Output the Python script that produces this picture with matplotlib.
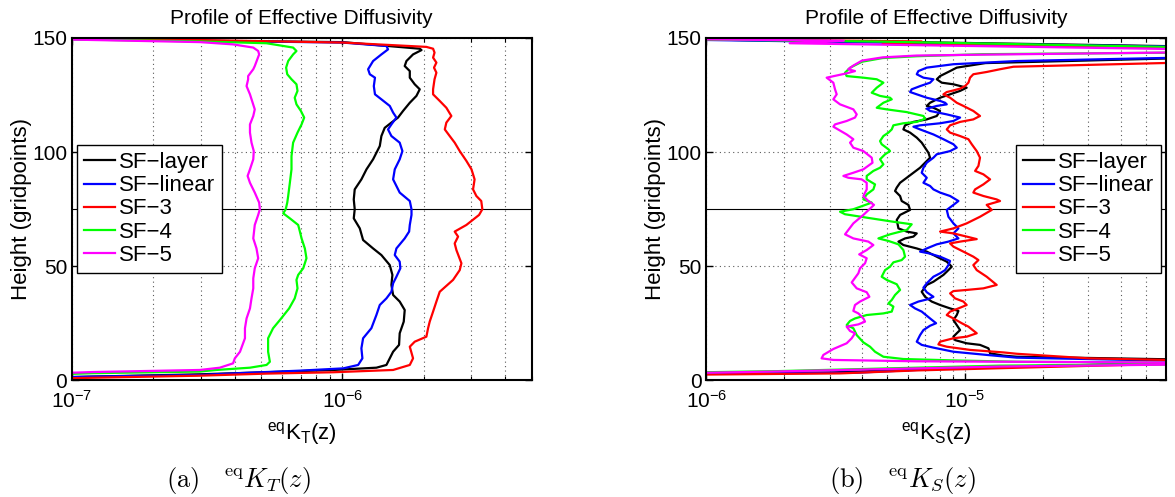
import matplotlib
matplotlib.use('Agg')
import matplotlib.pyplot as plt
from matplotlib.ticker import NullFormatter

plt.rcParams['font.family'] = ['Liberation Sans', 'DejaVu Sans']
plt.rcParams['mathtext.fontset'] = 'custom'
plt.rcParams['mathtext.rm'] = 'Liberation Sans'
plt.rcParams['mathtext.it'] = 'Liberation Sans:italic'
plt.rcParams['mathtext.bf'] = 'Liberation Sans:bold'

# values are in units of 1e-6, pairs are (height in gridpoints, diffusivity)
unit = 1e-6
labels = ['SF\u2212layer', 'SF\u2212linear', 'SF\u22123', 'SF\u22124', 'SF\u22125']
colors = ['k', (0, 0, 1), (1, 0, 0), (0, 1, 0), (1, 0, 1)]

# ---- (a) K_T ----
kt_layer = [(150, 0.05), (148.8, 0.297), (148.2, 1.0), (145.3, 1.931), (144.7, 1.96), (142.8, 1.824),
            (139.9, 1.724), (137.7, 1.699), (135.5, 1.774), (132.6, 1.774), (129.7, 1.85), (127.5, 1.931),
            (124.6, 1.877), (121.6, 1.774), (118.0, 1.675), (115.1, 1.605), (112.9, 1.517), (110.6, 1.433),
            (107.0, 1.393), (102.6, 1.374), (96.8, 1.298), (92.4, 1.227), (88.0, 1.175), (83.6, 1.110),
            (79.2, 1.101), (74.9, 1.110), (70.9, 1.101), (66.5, 1.159), (61.4, 1.192), (57.7, 1.298),
            (54.8, 1.393), (50.4, 1.496), (46.1, 1.53), (41.7, 1.517), (37.3, 1.539), (34.4, 1.628),
            (30.7, 1.699), (25.6, 1.685), (20.5, 1.628), (15.4, 1.619), (12.4, 1.539), (9.5, 1.496),
            (6.6, 1.454), (5.4, 1.335), (4.4, 0.924), (3.4, 0.524), (2.5, 0.297), (1.5, 0.12), (0.5, 0.05)]
kt_linear = [(150, 0.05), (148.8, 0.297), (148.0, 1.0), (146.5, 1.454), (145.0, 1.474), (142.8, 1.393),
             (139.9, 1.298), (136.3, 1.244), (134.1, 1.262), (132.6, 1.319), (128.9, 1.306), (125.3, 1.319),
             (123.1, 1.393), (120.2, 1.496), (117.3, 1.539), (115.1, 1.583), (112.1, 1.517), (109.9, 1.474),
             (107.0, 1.517), (104.1, 1.628), (100.4, 1.666), (96.8, 1.628), (92.4, 1.561), (88.0, 1.539),
             (82.2, 1.628), (78.5, 1.774), (74.9, 1.80), (72.4, 1.80), (68.0, 1.774), (65.1, 1.764),
             (62.1, 1.699), (57.7, 1.583), (54.8, 1.561), (51.9, 1.628), (49.0, 1.637), (45.3, 1.583),
             (42.4, 1.539), (38.7, 1.517), (35.8, 1.454), (32.9, 1.374), (28.5, 1.335), (22.7, 1.279),
             (18.3, 1.192), (13.9, 1.175), (9.5, 1.185), (6.6, 1.143), (5.1, 1.006), (4.1, 0.696),
             (2.9, 0.394), (2.2, 0.297), (1.5, 0.12), (0.5, 0.05)]
kt_sf3 = [(150, 0.05), (149.1, 0.297), (148.0, 1.0), (146.1, 2.043), (145.3, 2.163), (143.6, 2.19),
          (141.4, 2.163), (139.2, 2.225), (137.0, 2.18), (134.8, 2.225), (131.9, 2.19), (127.5, 2.163),
          (125.3, 2.163), (122.4, 2.289), (119.4, 2.422), (115.8, 2.527), (112.9, 2.422), (109.9, 2.39),
          (107.0, 2.492), (104.1, 2.60), (100.4, 2.714), (96.1, 2.872), (92.4, 3.0), (88.0, 3.08),
          (83.6, 3.04), (80.7, 3.127), (78.5, 3.26), (74.9, 3.29), (72.4, 3.20), (68.0, 2.872),
          (65.1, 2.60), (62.9, 2.676), (59.9, 2.60), (57.0, 2.638), (51.2, 2.753), (48.2, 2.714),
          (43.9, 2.564), (38.7, 2.289), (34.4, 2.225), (30.0, 2.163), (25.6, 2.102), (22.7, 2.073),
          (19.0, 2.043), (16.8, 1.85), (14.6, 1.774), (9.5, 1.824), (6.6, 1.774), (4.4, 1.539),
          (3.4, 0.924), (2.8, 0.524), (1.9, 0.297), (1.0, 0.12), (0.0, 0.05)]
kt_sf4 = [(150, 0.05), (148.5, 0.297), (147.7, 0.524), (145.8, 0.657), (144.3, 0.676), (142.8, 0.657),
          (139.9, 0.630), (137.0, 0.619), (134.1, 0.625), (131.9, 0.648), (129.7, 0.676), (126.8, 0.682),
          (123.8, 0.666), (120.9, 0.676), (118.0, 0.702), (115.1, 0.722), (112.1, 0.706), (108.5, 0.682),
          (104.1, 0.657), (98.2, 0.648), (92.4, 0.648), (86.5, 0.639), (80.7, 0.630), (77.8, 0.625),
          (74.9, 0.617), (73.1, 0.604), (70.9, 0.639), (68.0, 0.686), (65.1, 0.696), (62.1, 0.706),
          (57.7, 0.726), (53.4, 0.736), (49.0, 0.716), (46.1, 0.686), (43.9, 0.676), (40.2, 0.682),
          (35.8, 0.666), (31.4, 0.635), (26.3, 0.587), (22.7, 0.554), (18.3, 0.531), (12.4, 0.531),
          (8.0, 0.539), (6.6, 0.524), (5.4, 0.455), (4.4, 0.342), (3.7, 0.297), (3.0, 0.12), (1.5, 0.05)]
kt_sf5 = [(150, 0.05), (148.2, 0.297), (147.2, 0.394), (145.8, 0.468), (144.3, 0.488), (142.8, 0.492),
          (137.7, 0.474), (136.3, 0.468), (133.3, 0.448), (131.9, 0.448), (128.9, 0.442), (125.3, 0.455),
          (118.7, 0.474), (115.8, 0.468), (112.1, 0.455), (108.5, 0.455), (104.1, 0.461), (100.4, 0.470),
          (96.8, 0.468), (92.4, 0.455), (89.5, 0.446), (86.5, 0.455), (82.2, 0.474), (77.8, 0.492),
          (74.9, 0.495), (72.4, 0.488), (68.0, 0.474), (62.1, 0.468), (57.7, 0.481), (53.4, 0.488),
          (49.0, 0.474), (44.6, 0.468), (40.2, 0.468), (35.8, 0.461), (31.4, 0.455), (27.0, 0.442),
          (22.7, 0.436), (18.3, 0.436), (12.4, 0.418), (9.5, 0.400), (7.3, 0.394), (5.4, 0.352),
          (4.4, 0.297), (3.5, 0.12), (2.0, 0.05)]

# ---- (b) K_S ----
ks_layer = [(150, 0.3), (148.3, 5.5), (145.5, 200), (142.5, 200), (139.0, 12.0), (137.0, 9.293),
            (135.5, 8.758), (133.3, 8.012), (131.9, 7.778), (130.4, 8.13), (129.7, 9.021), (128.2, 10.15),
            (126.8, 9.572), (125.3, 8.758), (123.8, 8.012), (121.6, 7.328), (120.2, 7.115), (119.4, 7.55),
            (118.0, 8.012), (115.8, 7.778), (114.3, 7.115), (113.2, 6.318), (111.7, 5.864), (109.9, 5.779),
            (108.5, 6.134), (106.3, 6.509), (104.1, 6.803), (101.9, 7.008), (99.7, 7.219), (97.5, 7.328),
            (95.3, 7.008), (93.1, 6.705), (90.9, 6.318), (88.7, 5.954), (86.5, 5.611), (84.4, 5.447),
            (82.9, 5.366), (80.7, 5.611), (78.5, 5.693), (76.8, 6.043), (74.6, 6.134), (72.4, 5.611),
            (70.2, 5.447), (66.5, 5.53), (65.1, 5.954), (64.3, 6.509), (62.9, 6.318), (62.1, 5.864),
            (60.7, 5.53), (59.2, 5.779), (57.7, 6.509), (56.3, 7.115), (53.7, 7.893), (51.9, 8.502),
            (49.7, 8.889), (47.5, 8.502), (46.1, 8.253), (44.6, 7.893), (43.1, 7.55), (41.7, 7.115),
            (38.7, 6.803), (36.5, 7.008), (34.4, 7.436), (32.9, 8.012), (31.4, 8.758), (30.3, 9.43),
            (28.5, 9.293), (26.3, 9.021), (24.1, 9.293), (21.9, 9.572), (20.5, 9.293), (19.0, 9.021),
            (17.5, 9.156), (16.1, 10.15), (15.4, 11.43), (13.9, 12.32), (11.7, 12.5), (10.7, 14.07),
            (10.2, 15.85), (9.1, 60), (8.7, 200), (5.6, 12.0), (3.3, 3.0), (2.4, 0.4)]
ks_linear = [(150, 0.3), (148.0, 4.8), (145.5, 200), (142.5, 200), (139.9, 15.85), (138.5, 9.02),
             (137.0, 7.115), (135.5, 6.604), (134.1, 6.509), (132.6, 6.907), (131.9, 7.55), (130.4, 7.328),
             (128.9, 6.705), (127.5, 6.223), (126.3, 6.134), (125.3, 6.509), (123.8, 7.115), (123.1, 7.55),
             (122.4, 8.012), (121.6, 8.375), (120.9, 8.502), (120.2, 7.778), (119.0, 7.115), (118.0, 7.328),
             (116.5, 8.502), (115.1, 9.572), (113.6, 9.021), (112.6, 8.012), (111.7, 6.705), (111.1, 6.318),
             (109.9, 6.705), (107.7, 7.55), (105.6, 8.253), (103.4, 9.021), (101.9, 9.293), (100.4, 8.758),
             (99.0, 7.778), (97.5, 7.55), (95.3, 7.115), (93.1, 6.907), (90.9, 6.803), (88.7, 7.115),
             (86.5, 6.907), (85.1, 7.328), (83.6, 7.55), (82.2, 8.012), (80.7, 8.758), (78.5, 9.43),
             (76.8, 9.021), (74.6, 8.502), (71.6, 8.628), (68.7, 9.021), (66.5, 9.43), (64.3, 9.021),
             (62.1, 9.43), (60.7, 8.628), (59.5, 7.778), (57.7, 7.115), (56.3, 6.705), (55.6, 7.219),
             (54.1, 8.012), (52.2, 8.758), (50.4, 8.628), (48.2, 8.375), (46.8, 8.012), (45.3, 7.55),
             (42.4, 7.115), (40.5, 6.907), (38.5, 7.115), (36.5, 7.55), (35.5, 7.219), (34.4, 6.604),
             (32.9, 6.134), (31.4, 6.411), (30.0, 6.803), (27.0, 7.328), (24.9, 7.73), (23.8, 7.328),
             (21.9, 6.907), (19.7, 6.705), (16.8, 6.509), (15.4, 6.803), (14.2, 7.55), (12.4, 9.021),
             (11.0, 12.13), (9.8, 15.85), (8.5, 60), (8.1, 200), (5.8, 12.0), (3.2, 3.8), (2.5, 0.4)]
ks_sf3 = [(150, 0.3), (148.5, 6.8), (147.4, 4.8), (145.0, 200), (140.5, 200), (137.4, 15.39),
          (136.3, 13.66), (135.1, 12.13), (134.1, 10.77), (132.6, 10.46), (130.4, 10.31), (128.9, 10.0),
          (127.8, 9.572), (127.0, 9.021), (126.3, 8.502), (125.3, 8.253), (123.8, 8.758), (121.6, 9.293),
          (120.2, 9.86), (118.0, 10.77), (115.8, 11.43), (114.3, 10.77), (113.2, 9.572), (111.7, 8.758),
          (109.9, 8.502), (108.5, 8.758), (107.0, 9.572), (105.6, 10.31), (103.4, 10.62), (100.4, 11.1),
          (97.5, 11.43), (93.9, 11.27), (91.7, 10.94), (90.2, 11.78), (88.0, 12.5), (85.8, 11.78),
          (83.6, 10.94), (82.2, 10.77), (80.7, 11.78), (79.2, 13.26), (78.5, 13.66), (76.8, 12.13),
          (74.6, 12.69), (71.6, 11.43), (68.7, 10.15), (66.5, 9.021), (65.1, 8.012), (64.3, 9.021),
          (62.9, 10.15), (61.8, 11.1), (60.7, 9.572), (59.9, 8.758), (58.5, 9.021), (56.3, 9.86),
          (54.1, 10.77), (52.6, 11.27), (50.4, 10.77), (48.2, 11.1), (45.3, 12.13), (41.7, 13.26),
          (40.2, 11.78), (39.5, 10.15), (39.0, 9.021), (38.0, 8.758), (35.8, 9.156), (34.4, 9.86),
          (32.9, 10.15), (31.4, 9.43), (30.0, 8.758), (28.5, 8.502), (27.0, 9.021), (24.9, 9.715),
          (23.4, 10.31), (20.5, 11.1), (19.0, 10.15), (18.3, 9.021), (16.8, 8.012), (15.6, 7.893),
          (14.6, 8.502), (13.2, 10.46), (12.1, 14.07), (11.5, 15.85), (9.5, 30), (8.8, 60),
          (8.5, 200), (6.2, 30), (4.2, 6.5), (2.9, 3.3), (2.0, 0.4)]
ks_sf4 = [(150, 0.3), (148.4, 4.8), (145.0, 200), (144.0, 200), (142.9, 11.7), (142.0, 6.5),
          (141.2, 4.8), (139.6, 4.0), (137.0, 3.6), (134.8, 3.438), (133.3, 3.488), (132.6, 4.047),
          (131.9, 4.558), (130.4, 4.837), (128.2, 4.558), (126.0, 4.359), (124.6, 4.695), (123.8, 5.132),
          (123.1, 5.21), (121.6, 4.837), (119.4, 4.558), (118.7, 4.982), (117.5, 5.954), (115.8, 6.907),
          (114.6, 7.008), (113.2, 6.509), (112.6, 5.779), (111.7, 5.287), (109.9, 5.21), (108.5, 5.057),
          (107.0, 4.837), (104.8, 4.695), (103.4, 4.764), (101.2, 5.057), (100.4, 5.132), (99.0, 4.909),
          (96.8, 4.695), (94.6, 4.837), (93.1, 4.695), (91.7, 4.424), (89.5, 4.169), (88.0, 4.169),
          (85.8, 4.49), (83.6, 4.424), (81.4, 4.169), (79.2, 4.047), (77.8, 4.359), (74.9, 3.702),
          (73.8, 3.288), (72.7, 3.438), (71.2, 4.169), (69.4, 5.287), (68.3, 6.223), (65.8, 5.954),
          (63.9, 5.132), (62.1, 4.626), (61.0, 5.057), (59.5, 5.53), (57.0, 5.779), (54.1, 5.864),
          (52.6, 5.693), (51.6, 5.287), (49.7, 5.132), (48.2, 4.909), (45.3, 4.764), (43.9, 4.982),
          (42.0, 5.447), (39.5, 5.611), (37.3, 5.366), (35.1, 5.21), (33.6, 5.057), (32.2, 5.287),
          (30.0, 5.21), (29.2, 4.837), (28.5, 4.169), (27.0, 3.757), (25.9, 3.594), (24.1, 3.488),
          (22.7, 3.702), (19.7, 3.814), (16.5, 4.047), (14.6, 4.295), (12.4, 4.49), (10.2, 4.837),
          (9.2, 5.779), (8.6, 9.0), (8.0, 15.85), (7.2, 200), (6.3, 13.6), (3.9, 1.9), (2.7, 0.4)]
ks_sf5 = [(150, 0.3), (148.8, 3.4), (147.7, 2.1), (144.3, 200), (142.7, 11.7), (142.3, 6.5),
          (141.5, 4.8), (140.1, 4.0), (137.9, 3.7), (136.3, 3.54), (135.5, 3.757), (134.5, 3.488),
          (132.6, 2.919), (130.4, 3.098), (127.5, 3.144), (125.3, 3.192), (123.1, 3.098), (120.9, 3.288),
          (118.7, 3.702), (116.5, 3.814), (115.1, 3.757), (113.6, 3.488), (112.1, 3.144), (111.1, 3.098),
          (107.7, 3.488), (105.6, 3.702), (104.1, 3.594), (101.9, 3.702), (100.4, 4.047), (97.5, 4.359),
          (95.3, 4.39), (92.4, 4.047), (90.9, 3.702), (89.5, 3.387), (88.7, 3.54), (88.0, 3.987),
          (86.5, 4.169), (83.6, 4.169), (80.7, 4.047), (78.5, 4.231), (76.8, 4.45), (72.4, 4.047),
          (68.7, 3.702), (63.9, 3.438), (62.1, 3.702), (60.7, 4.231), (59.2, 4.424), (57.0, 4.169),
          (55.1, 3.90), (53.4, 4.169), (51.2, 4.108), (49.0, 3.928), (46.8, 3.871), (42.8, 3.648),
          (40.2, 3.814), (38.5, 4.169), (36.5, 4.27), (34.4, 3.928), (32.9, 3.757), (30.3, 3.702),
          (29.2, 3.871), (27.0, 4.047), (25.6, 4.108), (24.4, 3.871), (23.4, 3.488), (21.5, 3.594),
          (20.5, 3.757), (18.3, 3.648), (16.1, 3.488), (13.6, 3.098), (11.0, 2.835), (9.5, 2.79),
          (8.8, 3.1), (8.2, 6.5), (7.4, 200), (5.9, 13.6), (3.7, 1.8), (2.4, 0.4)]

kt_curves = [kt_layer, kt_linear, kt_sf3, kt_sf4, kt_sf5]
ks_curves = [ks_layer, ks_linear, ks_sf3, ks_sf4, ks_sf5]
y_ticks = [0, 50, 100, 150]


def draw_panel(ax, curves, xlim, xlabel, loc, anchor):
    ax.axhline(75, color='k', lw=0.8, zorder=1)
    for data, c, lab in zip(curves, colors, labels):
        z = [p[0] for p in data]
        v = [p[1] * unit for p in data]
        ax.plot(v, z, color=c, lw=1.6, label=lab, zorder=2)
    ax.set_xscale('log')
    ax.set_xlim(*xlim)
    ax.set_ylim(0, 150)
    ax.set_yticks(y_ticks)
    ax.xaxis.set_minor_formatter(NullFormatter())
    ax.grid(True, which='both', axis='x', ls=(0, (1, 3)), color='0.35', lw=0.8)
    ax.grid(True, which='major', axis='y', ls=(0, (1, 3)), color='0.35', lw=0.8)
    ax.tick_params(which='both', direction='in', top=True, right=True, labelsize=15)
    ax.tick_params(which='major', length=5, width=1)
    ax.tick_params(which='minor', length=3, width=0.8)
    ax.tick_params(axis='x', which='major', pad=7)
    for s in ax.spines.values():
        s.set_linewidth(1.5)
    ax.set_title('Profile of Effective Diffusivity', fontsize=15, pad=10)
    ax.set_xlabel(xlabel, fontsize=16, labelpad=6)
    ax.set_ylabel('Height (gridpoints)', fontsize=16, labelpad=0)
    leg = ax.legend(loc=loc, bbox_to_anchor=anchor, fontsize=16, fancybox=False,
                    edgecolor='k', framealpha=1, borderaxespad=0, handlelength=1.4,
                    handletextpad=0.2, labelspacing=0.1, borderpad=0.3)
    leg.get_frame().set_linewidth(1.0)


fig = plt.figure(figsize=(11.75, 4.97), dpi=100)
ax1 = fig.add_axes([72 / 1175, 117 / 497, 459.5 / 1175, 342 / 497])
ax2 = fig.add_axes([706.3 / 1175, 117 / 497, 460 / 1175, 342 / 497])

draw_panel(ax1, kt_curves, (1e-7, 5e-6), r'$^{\mathrm{eq}}\mathrm{K}_{\mathrm{T}}\mathrm{(z)}$',
           'center left', (0.011, 0.5))
draw_panel(ax2, ks_curves, (1e-6, 6e-5), r'$^{\mathrm{eq}}\mathrm{K}_{\mathrm{S}}\mathrm{(z)}$',
           'center right', (0.989, 0.5))

fig.text(238 / 1175, 1 - 480 / 497, r'$\mathrm{(a)}\quad{}^{\mathrm{eq}}K_T(z)$',
         math_fontfamily='cm', fontsize=19, ha='center', va='center')
fig.text(902 / 1175, 1 - 480 / 497, r'$\mathrm{(b)}\quad{}^{\mathrm{eq}}K_S(z)$',
         math_fontfamily='cm', fontsize=19, ha='center', va='center')

fig.savefig('out.png', dpi=100)
